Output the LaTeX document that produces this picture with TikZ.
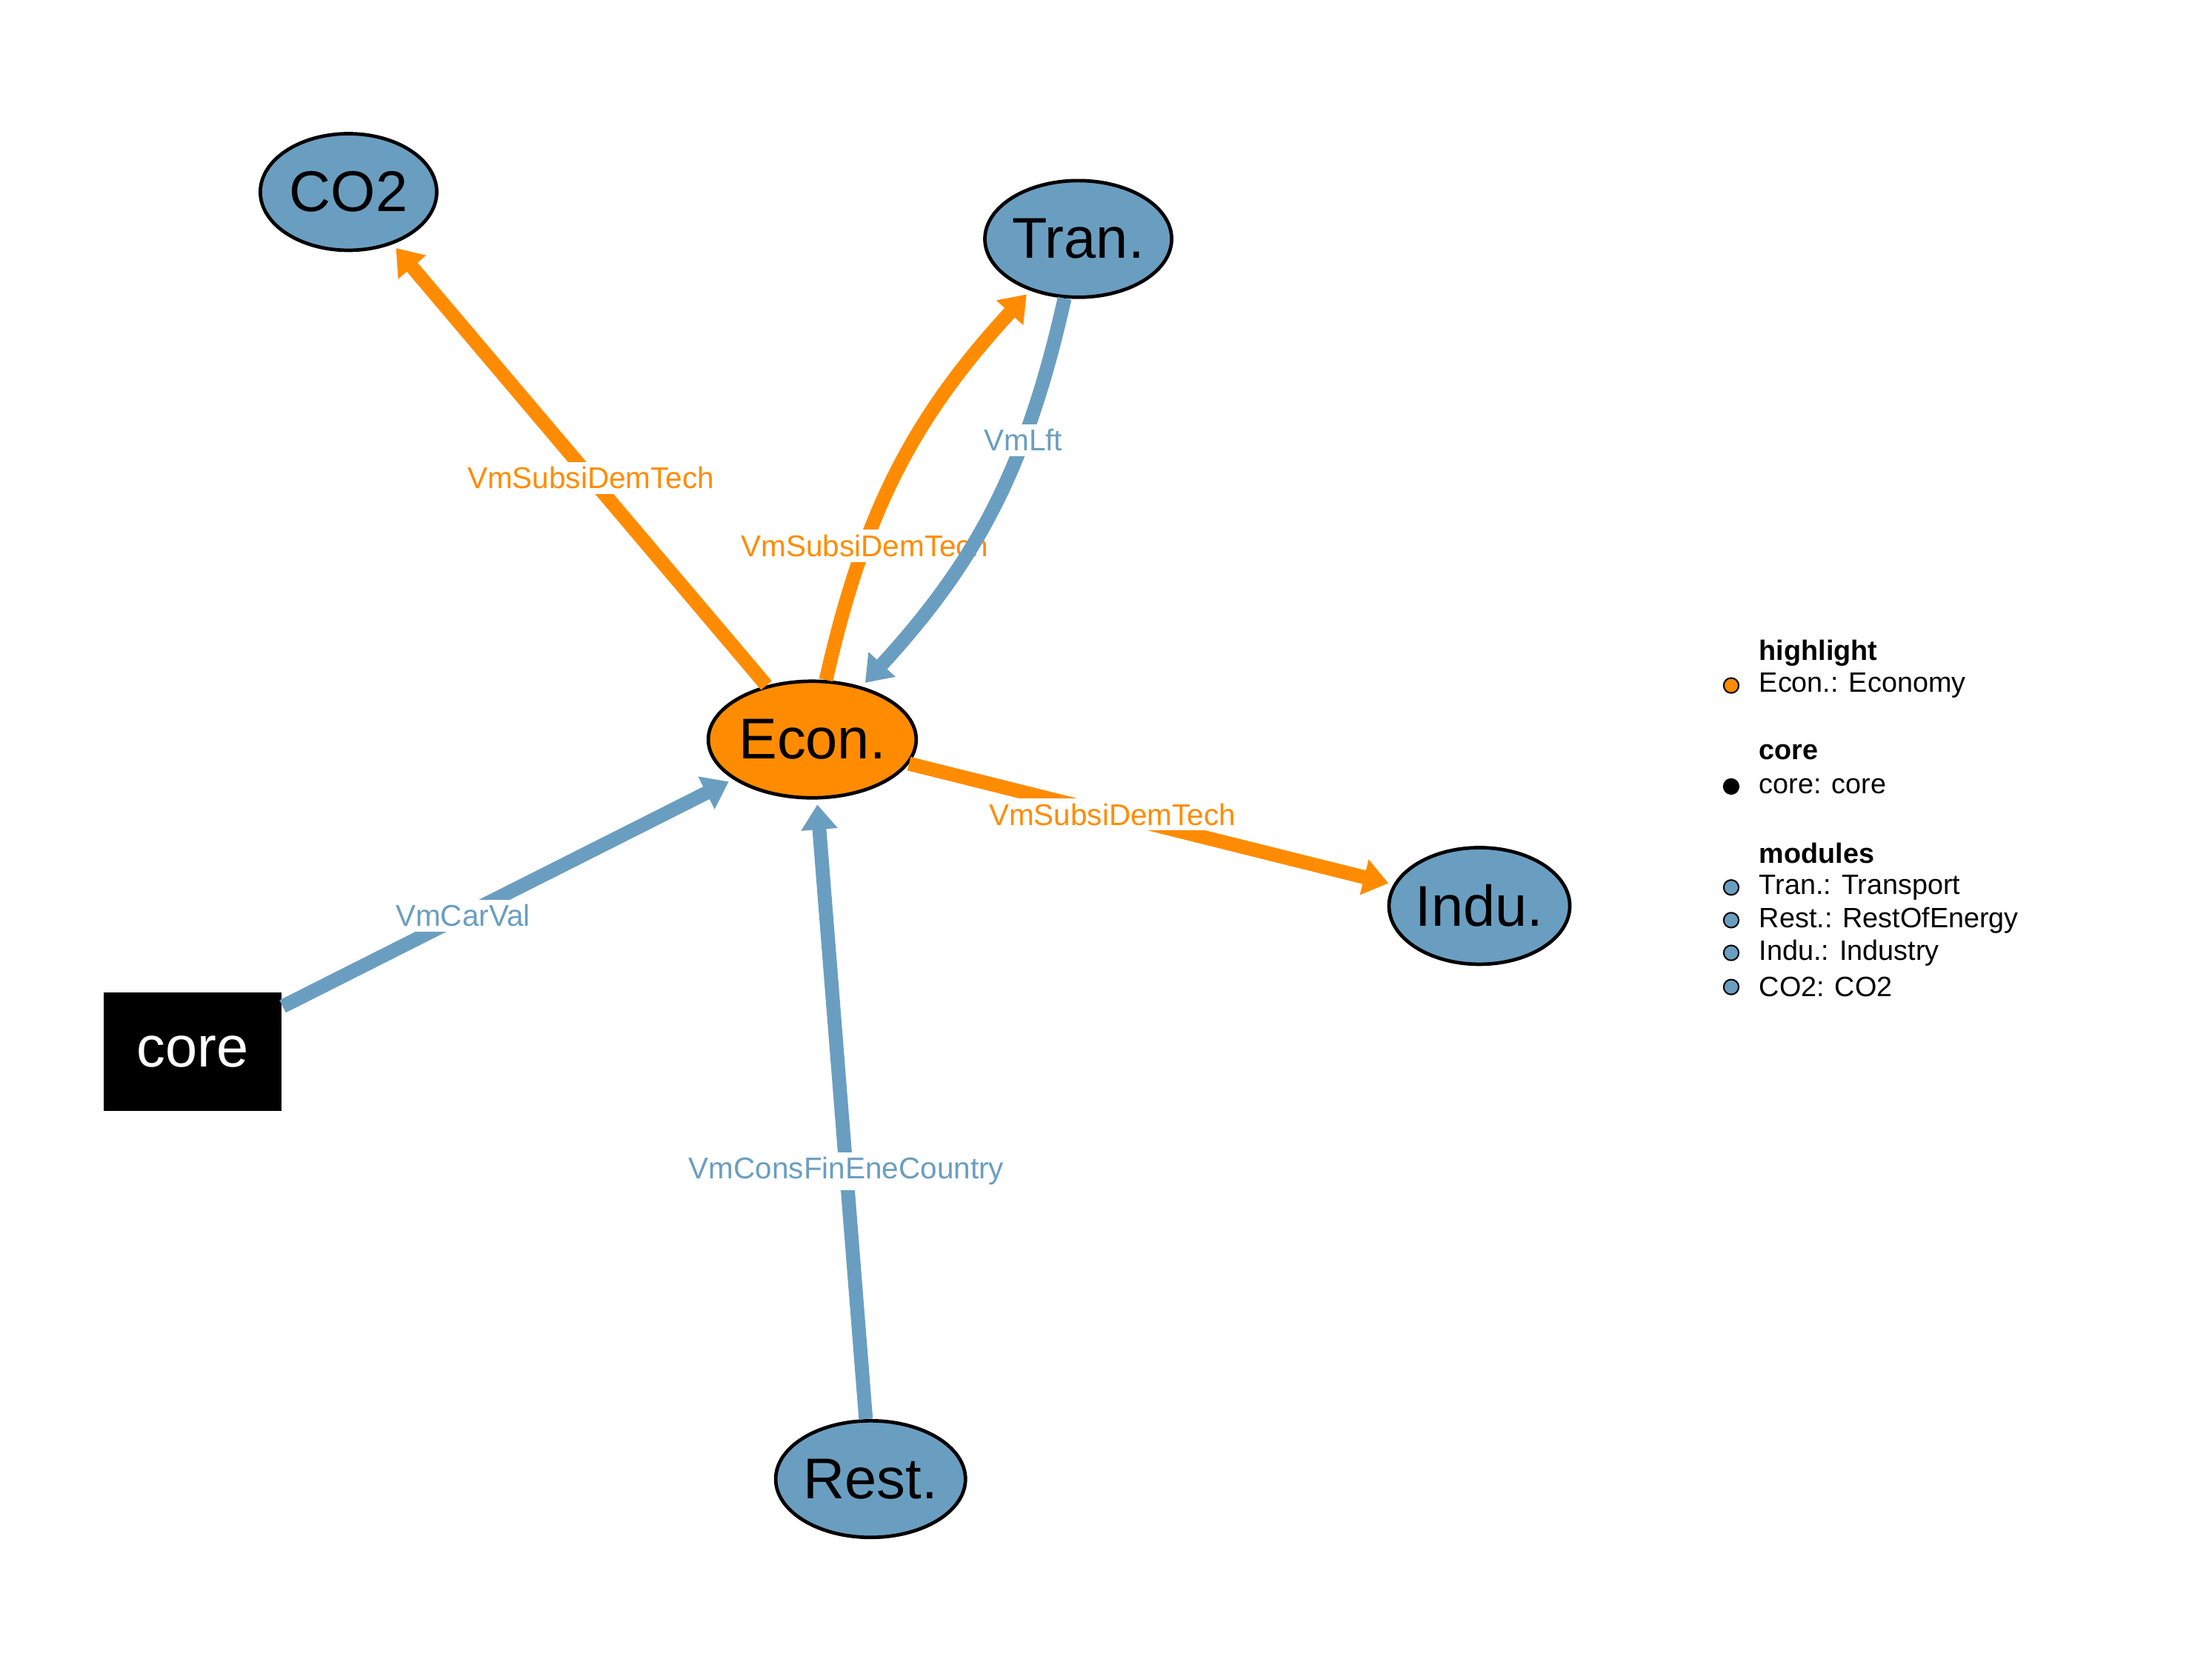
\documentclass[tikz,border=0pt]{standalone}
\usepackage{fontspec}
\setmainfont{Liberation Sans}
\usetikzlibrary{arrows.meta,shapes.geometric}
\definecolor{hlorange}{HTML}{FF8C00}
\definecolor{modblue}{HTML}{6A9EC0}
\tikzset{
  modnode/.style={ellipse, draw=black, line width=0.7pt, fill=modblue, minimum width=1.24cm, minimum height=0.82cm, inner sep=0pt, font=\fontsize{11.5}{12}\selectfont},
  hlnode/.style={modnode, fill=hlorange},
  corenode/.style={rectangle, fill=black, text=white, minimum width=1.25cm, minimum height=0.83cm, inner sep=0pt, font=\fontsize{11.5}{12}\selectfont},
  flow/.style={line width=2.8pt, -{Triangle[length=5pt,width=7pt]}, shorten >=1pt},
  flowlabel/.style={fill=white, inner sep=1pt, font=\fontsize{6}{7}\selectfont},
  legtext/.style={anchor=west, inner sep=0pt, font=\fontsize{5.6}{7}\selectfont},
  legdot/.style={circle, draw=black, line width=0.3pt, minimum size=3pt, inner sep=0pt}
}
\begin{document}
\begin{tikzpicture}
  \useasboundingbox (0,0) rectangle (15.55,-11.66);
  % Nodes
  \node[modnode] (CO2) at (2.45,-1.35) {CO2};
  \node[modnode] (Tran) at (7.58,-1.68) {Tran.};
  \node[hlnode] (Econ) at (5.71,-5.20) {Econ.};
  \node[modnode] (Indu) at (10.40,-6.37) {Indu.};
  \node[modnode] (Rest) at (6.12,-10.40) {Rest.};
  \node[corenode] (core) at (1.355,-7.395) {core};
  % Edges
  \draw[flow, hlorange] (Econ) -- node[flowlabel, text=hlorange, pos=0.47] {VmSubsiDemTech} (CO2);
  \draw[flow, hlorange] (Econ) to[bend left=15] node[flowlabel, text=hlorange, pos=0.3] {VmSubsiDemTech} (Tran);
  \draw[flow, modblue] (Tran) to[bend left=15] node[flowlabel, text=modblue, pos=0.32] {VmLft} (Econ);
  \draw[flow, hlorange] (Econ) -- node[flowlabel, text=hlorange, pos=0.42] {VmSubsiDemTech} (Indu);
  \draw[flow, modblue] (core) -- node[flowlabel, text=modblue, pos=0.4] {VmCarVal} (Econ);
  \draw[flow, modblue] (Rest) -- node[flowlabel, text=modblue, pos=0.4] {VmConsFinEneCountry} (Econ);
  % Legend
  \node[legtext, font=\bfseries\fontsize{5.6}{7}\selectfont] (lh) at (12.36,-4.59) {highlight};
  \node[legdot, fill=hlorange] (d1) at (12.17,-4.82) {};
  \node[legtext] (l1) at (12.36,-4.82) {Econ.: Economy};
  \node[legtext, font=\bfseries\fontsize{5.6}{7}\selectfont] (lc) at (12.36,-5.29) {core};
  \node[legdot, fill=black] (d2) at (12.17,-5.53) {};
  \node[legtext] (l2) at (12.36,-5.53) {core: core};
  \node[legtext, font=\bfseries\fontsize{5.6}{7}\selectfont] (lm) at (12.36,-6.00) {modules};
  \node[legdot, fill=modblue] (d3) at (12.17,-6.24) {};
  \node[legtext] (l3) at (12.36,-6.24) {Tran.: Transport};
  \node[legdot, fill=modblue] (d4) at (12.17,-6.47) {};
  \node[legtext] (l4) at (12.36,-6.47) {Rest.: RestOfEnergy};
  \node[legdot, fill=modblue] (d5) at (12.17,-6.70) {};
  \node[legtext] (l5) at (12.36,-6.70) {Indu.: Industry};
  \node[legdot, fill=modblue] (d6) at (12.17,-6.94) {};
  \node[legtext] (l6) at (12.36,-6.94) {CO2: CO2};
\end{tikzpicture}
\end{document}
